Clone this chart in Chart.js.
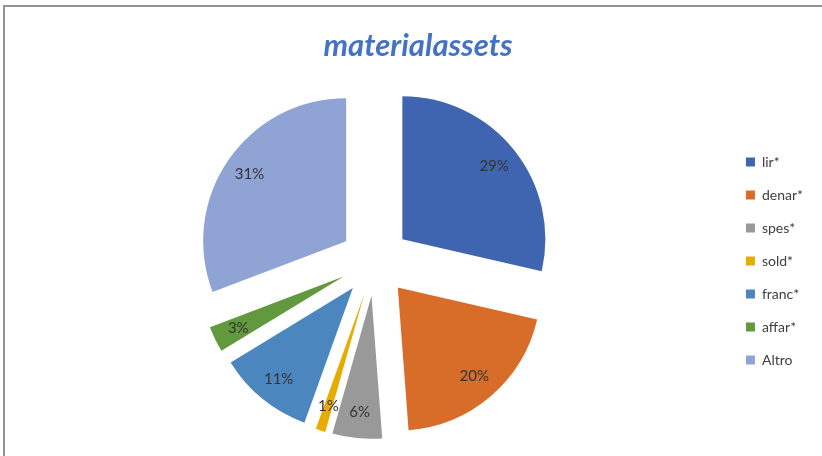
<!DOCTYPE html>
<html>
<head>
<meta charset="utf-8">
<script src="https://cdn.jsdelivr.net/npm/chart.js"></script>
<style>
html, body { margin: 0; padding: 0; background: #fff; overflow: hidden; }
#marco { position: absolute; left: 3px; top: 5px; width: 900px; height: 500px;
         border-top: 2px solid #939393; border-left: 2px solid #939393; }
#caja { position: absolute; left: 0; top: 0; width: 822px; height: 456px; }
</style>
</head>
<body>
<div id="marco"></div>
<div id="caja"><canvas id="torta"></canvas></div>
<script>
const titulo = 'materialassets'
const etiquetas = ['lir*', 'denar*', 'spes*', 'sold*', 'franc*', 'affar*', 'Altro']
const valores = [28.6, 20.2, 5.6, 1.1, 10.8, 2.9, 30.8]
const colores = ['#3f65b0', '#d76d29', '#999999', '#e6ac00', '#4b87be', '#62993e', '#8fa3d4']

const separacion = 35 // cuanto se separa cada porcion del centro

/* dibuja cada porcion desplazada hacia afuera */
const explotar = {
    id: 'explotar',
    beforeDatasetDraw(chart, args) {
        const ctx = chart.ctx
        args.meta.data.forEach(arco => {
            const medio = (arco.startAngle + arco.endAngle) / 2
            ctx.save()
            ctx.translate(Math.cos(medio) * separacion, Math.sin(medio) * separacion)
            arco.draw(ctx)
            ctx.restore()
        })
        return false
    },
    /* porcentaje dentro de cada porcion */
    afterDatasetsDraw(chart) {
        const ctx = chart.ctx
        const total = valores.reduce((a, b) => a + b, 0)
        ctx.save()
        ctx.font = '15px Lato'
        ctx.fillStyle = '#333333'
        ctx.textAlign = 'center'
        ctx.textBaseline = 'middle'
        chart.getDatasetMeta(0).data.forEach((arco, i) => {
            const medio = (arco.startAngle + arco.endAngle) / 2
            const d = separacion + arco.outerRadius * 0.82
            const texto = Math.round(valores[i] / total * 100) + '%'
            ctx.fillText(texto, arco.x + Math.cos(medio) * d, arco.y + Math.sin(medio) * d)
        })
        ctx.restore()
    }
}

new Chart(document.getElementById('torta'), {
    type: 'pie',
    data: {
        labels: etiquetas,
        datasets: [{
            data: valores,
            backgroundColor: colores,
            borderWidth: 0,
            hoverOffset: 0
        }]
    },
    options: {
        responsive: true,
        maintainAspectRatio: false,
        animation: false,
        layout: { padding: { left: 23, right: 9, top: 0, bottom: 52 } },
        plugins: {
            title: {
                display: true,
                text: titulo,
                color: '#4472c4',
                font: { family: 'Lato', size: 31, weight: 'bold', style: 'italic' },
                padding: { top: 27.4, bottom: 53.4 }
            },
            legend: {
                position: 'right',
                fullSize: false,
                labels: {
                    boxWidth: 9,
                    boxHeight: 9,
                    padding: 19,
                    color: '#404040',
                    font: { family: 'Lato', size: 14 }
                }
            },
            tooltip: { enabled: false }
        }
    },
    plugins: [explotar]
})
</script>
</body>
</html>
